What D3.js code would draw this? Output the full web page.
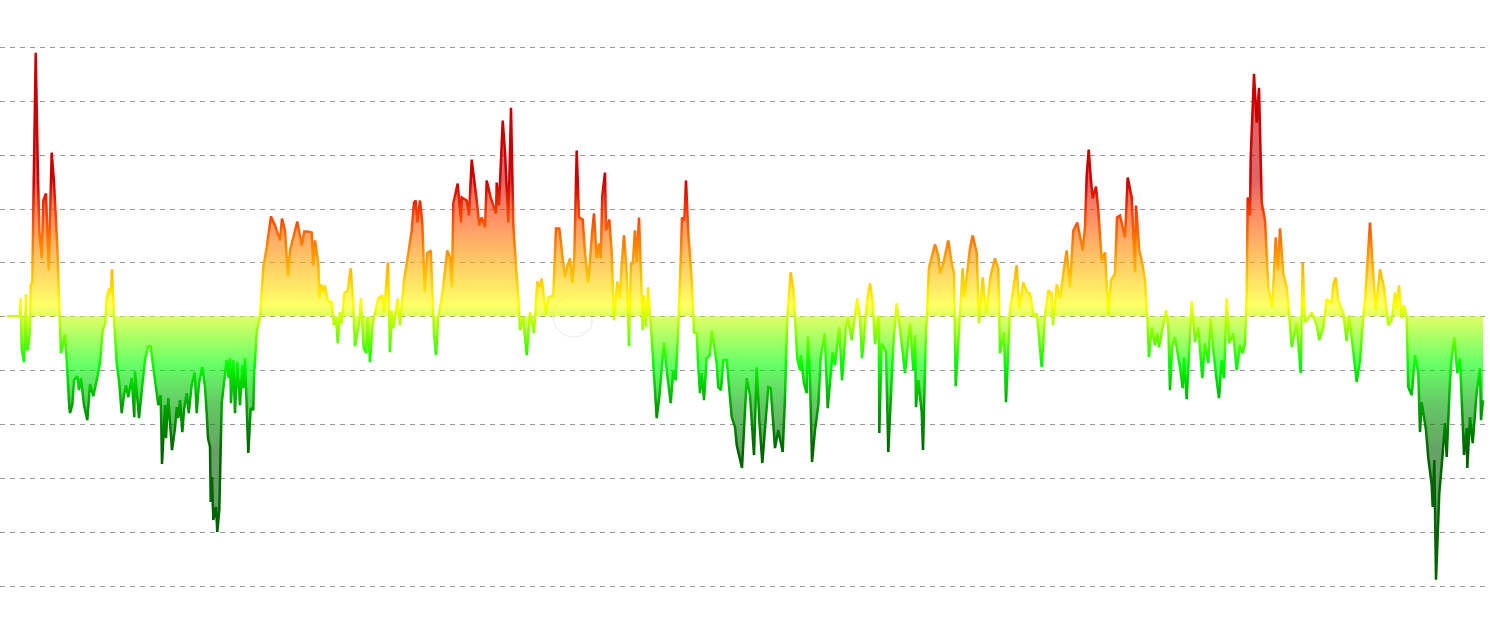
<!DOCTYPE html>
<html><head><meta charset="utf-8">
<style>html,body{margin:0;padding:0;background:#fff}svg{display:block}</style>
<script src="https://cdn.jsdelivr.net/npm/d3@7"></script></head><body>
<svg id="c" width="1490" height="633"></svg>
<script>
const gridValues=[-270,-216,-162,-108,-54,0,54,108,162,216,270];
const stopValues=[135,100,55,12,0,-48,-90,-135];
const stopColors=["#cc0000","#ff4500","#ffa500","#ffff00","#ccff00","#00ff00","#00a000","#006400"];
const seriesA=[[7,0],[20,0],[20.7,18],[21.7,-33],[24,-46],[26,22],[26.7,-33],[28,-33],[30,-14],[30.7,31],[32.3,34],[33.5,120],[35.7,264],[37.7,153],[39.3,86],[41.7,58],[43.3,116],[46,123],[48.7,46],[51.7,164],[54,134],[57.3,69],[59.3,9],[61,-37],[63.3,-27],[65,-18],[66.7,-44],[69.3,-91],[70,-97],[72.3,-89],[74,-64],[77.3,-60],[79,-74],[81,-62],[84,-89],[87.3,-104],[90,-68],[93.3,-80],[97.3,-61],[100,-46],[102.7,-14],[105.3,-7],[106.7,18],[109.3,28],[110.7,23],[112,47],[114,-1],[116.7,-47],[119.3,-67],[121.7,-97],[124,-79],[126,-69],[128.3,-81],[131.7,-62],[134.3,-101],[135,-55],[139,-102],[142.3,-69],[145,-44],[148.3,-30],[150.7,-30],[153.3,-51],[158.3,-89],[160.7,-79],[162,-148],[165,-89],[166,-122],[168.3,-82],[172,-134],[175,-112],[176.7,-91],[178.3,-102],[180,-84],[182.3,-116],[184,-94],[186.7,-77],[188.7,-97],[191.7,-69],[194.7,-56],[196.7,-97],[199,-67],[202.3,-51],[205,-71],[206.7,-97],[208,-122],[210,-131],[210.7,-186],[212,-161],[213.3,-204],[216,-191],[217.3,-216],[219.3,-194],[221.7,-87],[224,-67],[226.7,-44],[228.7,-62],[230,-42],[231,-87],[233.3,-44],[235,-97],[237.3,-46],[240,-89],[242.3,-49],[243.3,-72],[245,-42],[248.3,-137],[250.7,-92],[253.3,-94],[254,-61],[256.7,-16]];
const seriesB=[[260,-1],[263.3,49],[266.7,69],[271,100],[275,91],[280,76],[282,98],[285,86],[288,40],[290,66],[293.3,79],[297.3,95],[301.7,71],[304.3,85],[307.7,85],[311.7,84],[313.3,51],[315,76],[318.3,53],[319.3,18],[321.3,32],[323.3,24],[325,31],[327.7,16],[331.7,14],[334,-9],[336,-1],[337.7,-27],[340,4],[341.7,-7],[344.3,23],[347.7,26],[350.7,48],[353.3,13],[355,-30],[359,-7],[361,18],[363.7,-32],[366.3,-37],[367.7,-1],[370,-46],[372.7,-7],[378.3,18],[382.3,21],[384,4],[388,54],[390,-36],[391.7,6],[393.3,-12],[397.7,18],[400,-9],[404,36],[408.3,63],[411.7,86],[414,114],[415.7,116],[417.3,94],[420,116],[422.3,94],[424.7,24],[427.3,63],[430.7,66],[434,-17],[436,-39],[438.3,-1],[441.7,18],[447.3,66],[450,59],[452,29],[453.3,113],[457.7,133],[461,94],[461.7,119],[466.7,116],[469,101],[471.7,157],[476.7,116],[479.3,91],[481.7,99],[485,89],[486.7,136],[490.7,119],[496,103],[496.7,134],[499,111],[502.7,196],[505,165],[508.3,94],[511,209],[513.3,92],[516,49],[518.3,19],[520,-14],[523.3,-1],[526.7,-39]];
const seriesC=[[530,4],[534,-17],[537.3,35],[540,29],[541.7,38],[546,2],[548.3,19],[553.3,21],[556,88],[559.3,88],[562.3,61],[565,39],[567.3,50],[570,58],[572.3,33],[574.3,58],[576.7,166],[579,99],[582.7,97],[585,63],[588.3,34],[592.3,86],[594,103],[596.7,58],[599,73],[600.7,58],[602.3,121],[605,144],[606,86],[609.3,97],[611.7,63],[614,-4],[617.3,35],[620,18],[621.3,46],[624,81],[626.7,44],[629,-30],[631,54],[632.7,52],[635,86],[636.7,54],[639,99],[641,43],[642.7,-14],[644,21],[646,-11],[648,29],[651.7,-21],[656.7,-102],[659.3,-81],[664,-26],[666.7,-54],[670.7,-87],[673.3,-54],[675.7,-64],[678.3,-11],[680.7,56],[682,99],[684.3,96],[686,136],[688.3,83],[691.7,36],[694,-16],[696.7,-17],[698.3,-51],[700,-77],[701.7,-57],[704,-84],[706.7,-42],[710,-39],[711.7,-14],[716.7,-47],[718.3,-71],[721,-74],[723.3,-44],[726.7,-44],[731.7,-101],[735,-111],[736.7,-129],[742,-152],[746.7,-62],[750,-79],[754,-139],[756.7,-51],[759.3,-104],[762.3,-147],[768.3,-71],[770.7,-72],[775,-132],[778.3,-114],[782.7,-136],[785,-81]];
const seriesD=[[787.3,-1],[790.7,44],[793.3,28],[795,-1],[797.3,-42],[800,-54],[800.7,-39],[804,-67],[806.7,-77],[808,-20],[810,-61],[812,-146],[815,-114],[818.3,-89],[820.7,-42],[824.7,-17],[827.7,-92],[832.7,-36],[835,-49],[839.3,-11],[842,-64],[846,-11],[847.7,-1],[851.7,-24],[857.3,18],[860,-2],[862,-42],[864,-21],[867.3,18],[870,33],[872.7,14],[875,-28],[878.7,1],[879.3,-117],[881.7,-27],[886,-36],[888.3,-136],[893.3,-29],[896.7,13],[901.7,-27],[905,-57],[910,-7],[913.3,-54],[915,-19],[916,-91],[918.3,-64],[921.7,-96],[923,-134],[925.7,-24],[929,49],[935,72],[938.3,61],[940,43],[943.3,53],[948.3,76],[951.7,53],[954,43],[955.7,-70],[960,3],[962.7,48],[964.3,19],[970,68],[972.7,81],[976.7,64],[979,-7],[982.7,39],[986,3],[990.7,41],[995,58],[998.3,48],[1000,-37],[1004,-16],[1006,-86],[1010,6],[1016.7,51],[1019.3,8],[1023.3,34],[1027.3,24],[1030,23],[1034,-1],[1036.7,3],[1039.3,-24],[1041.7,-51]];
const seriesE=[[1045,1],[1048.3,26],[1051.7,23],[1053,-9],[1056.7,32],[1060,18],[1064,48],[1066.7,66],[1070,29],[1073.3,86],[1077.3,94],[1082.7,66],[1085,89],[1086.7,141],[1088.7,167],[1090.7,139],[1092.7,118],[1096,130],[1098.3,106],[1101.7,56],[1105,64],[1108.3,1],[1111,36],[1115,43],[1117,99],[1120,101],[1125,79],[1127.7,139],[1131.7,119],[1135,44],[1136,111],[1139.3,66],[1141.7,56],[1145,36],[1147.7,-9],[1149,-41],[1151.7,-11],[1155,-29],[1157.3,-17],[1159,-31],[1166,6],[1168.3,-11],[1170,-74],[1172.3,-29],[1175,-21],[1180,-51],[1182.7,-72],[1184,-41],[1186.7,-83],[1191.7,15],[1195,-26],[1198.3,-11],[1202.3,-62],[1205,-27],[1208.3,-47],[1210.7,-2],[1213.3,-34],[1217,-67],[1219,-82],[1221.7,-44],[1224,-62],[1226.7,18],[1229,-27],[1233.3,-17],[1236.7,-54],[1240,-29],[1242.7,-37],[1245,-27],[1246.7,23],[1247.7,119],[1250,101],[1250.7,159],[1254,243],[1256.7,194],[1259,229],[1261.7,114],[1265,96],[1268.3,29],[1272.3,9],[1275.7,79],[1278,46],[1280,88],[1283.3,43],[1286.7,29]];
const seriesF=[[1290,-7],[1291.7,-31],[1296.7,-7],[1300.7,-57],[1302.7,54],[1305,-6],[1308.3,-2],[1311.7,4],[1316.7,-9],[1319.3,-24],[1323.3,-11],[1326.7,17],[1331.7,13],[1333.3,32],[1335.7,39],[1338.3,16],[1343.3,3],[1346.7,-25],[1349,1],[1351.7,-21],[1356.7,-66],[1360,-44],[1363.3,1],[1365,16],[1370,94],[1372.3,56],[1375.7,6],[1380,47],[1384,29],[1388.3,-9],[1391.7,-4],[1395,24],[1396.7,8],[1399,31],[1401.7,-2],[1404,11],[1406.7,-1],[1408.3,-71],[1411.7,-79],[1415,-39],[1418.3,-57],[1420,-116],[1421.7,-86],[1426,-114],[1428.3,-142],[1431.7,-169],[1432.7,-191],[1434.3,-144],[1436,-264],[1439.3,-177],[1442.3,-142],[1445,-107],[1446.7,-141],[1450,-64],[1451.7,-42],[1454.3,-21],[1457.3,-57],[1460,-42],[1464,-139],[1466.7,-112],[1467.3,-152],[1470,-101],[1472.7,-127],[1476.7,-76],[1480,-52],[1481,-104],[1483,-84]];
const data=[].concat(seriesA,seriesB,seriesC,seriesD,seriesE,seriesF);
const x=d3.scaleLinear().domain([0,1490]).range([0,1490]);
const y=d3.scaleLinear().domain([-270,270]).range([585.8,46.8]);
const svg=d3.select("#c");
const yTop=y(stopValues[0]),yBot=y(stopValues[stopValues.length-1]);
const grad=svg.append("defs").append("linearGradient").attr("id","g").attr("gradientUnits","userSpaceOnUse")
 .attr("x1",0).attr("x2",0).attr("y1",yTop).attr("y2",yBot);
stopValues.forEach((v,i)=>grad.append("stop").attr("offset",(y(v)-yTop)/(yBot-yTop)).attr("stop-color",stopColors[i]));
svg.append("g").selectAll("line").data(gridValues).join("line")
 .attr("x1",0).attr("x2",1486).attr("y1",d=>Math.round(y(d))+.5).attr("y2",d=>Math.round(y(d))+.5)
 .attr("stroke","#999").attr("stroke-dasharray","5,5");
const wm=svg.append("g").attr("fill","none").attr("stroke","#edf0f6").attr("stroke-width",1);
wm.append("path").attr("d",d3.arc()({innerRadius:21,outerRadius:21,startAngle:-3.6,endAngle:-0.2})).attr("transform","translate(574,316)");
wm.append("path").attr("d",d3.arc()({innerRadius:11,outerRadius:11,startAngle:1.2,endAngle:3.2})).attr("transform","translate(581,322)");
svg.append("path").attr("fill","url(#g)").attr("fill-opacity",.6)
 .attr("d",d3.area().x(d=>x(d[0])).y0(y(0)).y1(d=>y(d[1]))(data));
svg.append("path").attr("fill","none").attr("stroke","url(#g)").attr("stroke-width",2.5).attr("stroke-linejoin","miter").attr("stroke-miterlimit",2)
 .attr("d",d3.line().x(d=>x(d[0])).y(d=>y(d[1]))(data));
</script></body></html>
